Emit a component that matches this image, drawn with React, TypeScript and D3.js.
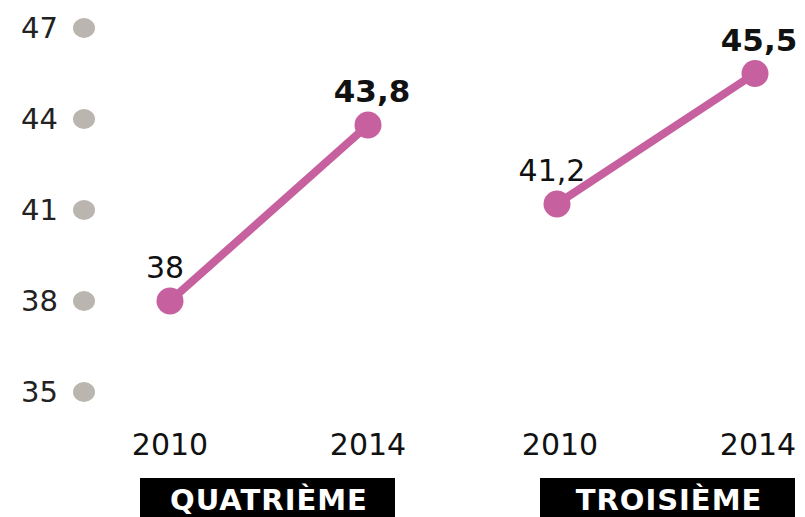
import React from "react";
import * as d3 from "d3";

const levels = ["QUATRIÈME", "TROISIÈME"];
const years = ["2010", "2014"];
const quatrieme = [38, 43.8];
const troisieme = [41.2, 45.5];
const yTicks = [35, 38, 41, 44, 47];

const W = 805;
const H = 517;
const PINK = "#c6609f";
const GREY = "#bab5ae";
const FONT = "'DejaVu Sans', Verdana, sans-serif";

const fr = d3.formatLocale({ decimal: ",", thousands: " ", grouping: [3], currency: ["", " €"] });
const fmt = fr.format(".1~f");

export default function App() {
  const series = [quatrieme, troisieme];
  const y = d3.scaleLinear().domain([35, 47]).range([392, 28]);
  const panel = d3.scalePoint<string>().domain(levels).range([170, 557]);
  const boxX = d3.scalePoint<string>().domain(levels).range([140, 540]);
  const xi = d3.scalePoint<string>().domain(years).range([0, 198]);
  const line = d3
    .line<number>()
    .x((_, i) => xi(years[i])!)
    .y((d) => y(d));

  return (
    <svg width={W} height={H} style={{ position: "absolute", left: 0, top: 0, background: "#fff" }} fontFamily={FONT}>
      {yTicks.map((t) => (
        <g key={t}>
          <text x={58} y={y(t)} dy="0.36em" textAnchor="end" fontSize={29} fill="#222">
            {t}
          </text>
          <ellipse cx={84} cy={y(t)} rx={11} ry={10} fill={GREY} />
        </g>
      ))}
      {levels.map((lv, li) => {
        const px = panel(lv)!;
        const vals = series[li];
        return (
          <g key={lv} transform={`translate(${px},0)`}>
            <path d={line(vals)!} fill="none" stroke={PINK} strokeWidth={8} strokeLinecap="round" />
            {vals.map((v, i) => (
              <circle key={i} cx={xi(years[i])!} cy={y(v)} r={13.5} fill={PINK} />
            ))}
            {vals.map((v, i) => (
              <text
                key={"l" + i}
                x={xi(years[i])! + (i === 0 ? -5 : 4)}
                y={y(v) - 23}
                textAnchor="middle"
                fontSize={i === 0 ? 30 : 31}
                fontWeight={i === 0 ? "normal" : "bold"}
                fill="#111"
              >
                {fmt(v)}
              </text>
            ))}
            {years.map((yr, i) => (
              <text key={yr} x={xi(yr)! + li * 3} y={455} textAnchor="middle" fontSize={30} fill="#111">
                {yr}
              </text>
            ))}
          </g>
        );
      })}
      {levels.map((lv) => {
        const bx = boxX(lv)!;
        return (
          <g key={"b" + lv}>
            <rect x={bx} y={478} width={255} height={45} fill="#000" />
            <text x={bx + 129} y={510} textAnchor="middle" fontSize={29} fontWeight="bold" fill="#fff" letterSpacing={1}>
              {lv}
            </text>
          </g>
        );
      })}
    </svg>
  );
}
